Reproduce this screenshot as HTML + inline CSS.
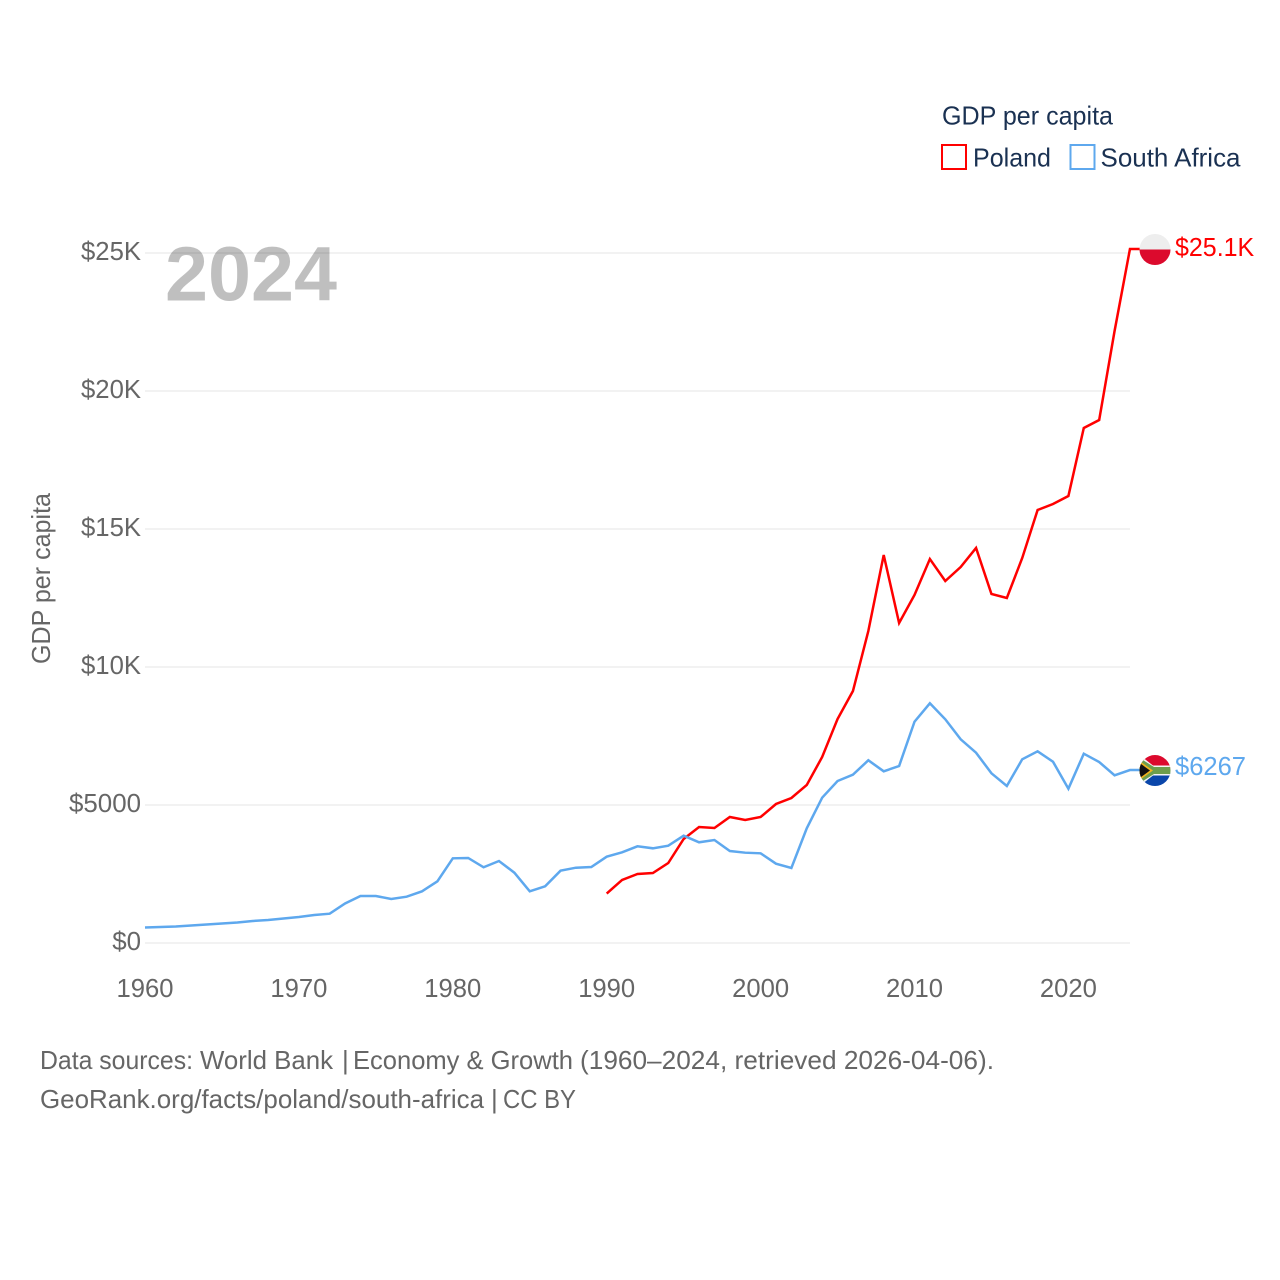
<!DOCTYPE html>
<html lang="en">
<head>
<meta charset="utf-8">
<title>GDP per capita: Poland and South Africa</title>
<style>
html,body{margin:0;padding:0;background:#fff;}
svg{display:block;font-family:"Liberation Sans",sans-serif;}
</style>
</head>
<body>
<svg id="chart" width="1280" height="1280" viewBox="0 0 1280 1280" xmlns="http://www.w3.org/2000/svg">
  <defs>
    <clipPath id="flag-clip"><circle cx="0" cy="0" r="15.5"></circle></clipPath>
  </defs>
  <rect width="1280" height="1280" fill="#fff"></rect>

  <g id="grid"></g>
  <g id="y-axis"></g>
  <g id="x-axis"></g>

  <text transform="translate(50,664) rotate(-90)" font-size="26" fill="#666" textLength="171" lengthAdjust="spacingAndGlyphs">GDP per capita</text>

  <g id="lines"></g>

  <text x="165" y="300.5" font-size="77" font-weight="700" fill="#000" fill-opacity="0.25" textLength="172" lengthAdjust="spacingAndGlyphs">2024</text>

  <g id="flag-poland">
    <g clip-path="url(#flag-clip)">
      <rect x="-16" y="-16" width="32" height="16" fill="#eeeeee"></rect>
      <rect x="-16" y="0" width="32" height="16" fill="#dc0a2d"></rect>
    </g>
  </g>
  <g id="flag-sa">
    <g clip-path="url(#flag-clip)">
      <rect x="-16" y="-16" width="32" height="16" fill="#dc0a2d"></rect>
      <rect x="-16" y="0" width="32" height="16" fill="#0a46aa"></rect>
      <path d="M-16,-16 L-2,-5 H16 V5 H-2 L-16,16 Z" fill="#f4f4f4"></path>
      <path d="M-16,-13 L-1,-3.5 H16 V3.5 H-1 L-16,13 Z" fill="#6d9e4c"></path>
      <path d="M-16,-10 L-2,0 L-16,10 Z" fill="#f0b41e"></path>
      <path d="M-16,-8 L-5,0 L-16,8 Z" fill="#111"></path>
    </g>
  </g>
  <g id="end-labels"></g>

  <g>
    <text x="942" y="124.5" font-size="26" fill="#1a3152" textLength="171" lengthAdjust="spacingAndGlyphs">GDP per capita</text>
    <g>
      <rect x="942" y="145" width="24" height="24" fill="none" stroke="#ff0000" stroke-width="2"></rect>
      <text x="973" y="166.5" font-size="26" fill="#1a3152" textLength="78" lengthAdjust="spacingAndGlyphs">Poland</text>
    </g>
    <g>
      <rect x="1070.5" y="145" width="24" height="24" fill="none" stroke="#5ea8ee" stroke-width="2"></rect>
      <text x="1100.5" y="166.5" font-size="26" fill="#1a3152" textLength="140" lengthAdjust="spacingAndGlyphs">South Africa</text>
    </g>
  </g>

  <text y="1069" font-size="26" fill="#666"><tspan x="40" textLength="153" lengthAdjust="spacingAndGlyphs">Data sources:</tspan> <tspan x="200" textLength="133" lengthAdjust="spacingAndGlyphs">World Bank</tspan> <tspan x="342">|</tspan> <tspan x="353" textLength="220" lengthAdjust="spacingAndGlyphs">Economy &amp; Growth</tspan> <tspan x="580" textLength="414" lengthAdjust="spacingAndGlyphs">(1960–2024, retrieved 2026-04-06).</tspan></text>
  <text y="1108" font-size="26" fill="#666"><tspan x="40" textLength="444" lengthAdjust="spacingAndGlyphs">GeoRank.org/facts/poland/south-africa</tspan> <tspan x="491">|</tspan> <tspan x="503" textLength="73" lengthAdjust="spacingAndGlyphs">CC BY</tspan></text>
</svg>
<script>
var yTickValues = [0, 5000, 10000, 15000, 20000, 25000];
var yTickLabels = ["$0", "$5000", "$10K", "$15K", "$20K", "$25K"];
var xTickYears = [1960, 1970, 1980, 1990, 2000, 2010, 2020];
var polandStartYear = 1990;
var southAfricaStartYear = 1960;
var polandValues = [1793, 2283, 2500, 2536, 2899, 3768, 4203, 4167, 4565, 4457, 4565, 5036, 5254, 5725, 6739, 8116, 9130, 11304, 14058, 11594, 12609, 13913, 13116, 13623, 14312, 12645, 12500, 13949, 15688, 15906, 16196, 18659, 18949, 22174, 25145];
var southAfricaValues = [562, 580, 598, 634, 670, 707, 743, 797, 833, 888, 942, 1014, 1062, 1431, 1703, 1703, 1594, 1678, 1873, 2236, 3069, 3080, 2743, 2971, 2547, 1873, 2054, 2620, 2728, 2754, 3127, 3286, 3504, 3431, 3525, 3888, 3649, 3732, 3333, 3272, 3250, 2873, 2717, 4156, 5264, 5870, 6098, 6620, 6221, 6413, 8018, 8685, 8105, 7380, 6895, 6149, 5688, 6656, 6946, 6569, 5591, 6859, 6558, 6076, 6267];

var NS = "http://www.w3.org/2000/svg";
function xScale(year) { return 145 + (year - 1960) * 15.39; }
function yScale(value) { return 943 - value * 0.0276; }
function formatValue(v) {
  return v >= 10000 ? "$" + (v / 1000).toFixed(1) + "K" : "$" + Math.round(v);
}
function make(tag, attrs, parent) {
  var el = document.createElementNS(NS, tag);
  for (var k in attrs) { el.setAttribute(k, attrs[k]); }
  parent.appendChild(el);
  return el;
}

var grid = document.getElementById("grid");
var yAxis = document.getElementById("y-axis");
var xAxis = document.getElementById("x-axis");
var linesGroup = document.getElementById("lines");
var endLabels = document.getElementById("end-labels");

yTickValues.forEach(function (v, i) {
  var y = yScale(v);
  var line = make("line", {x1: 145, x2: 1130, y1: y, y2: y, stroke: "#eeeeee", "stroke-width": 1.6}, grid);
  
  
  var label = yTickLabels[i];
  var width = label.length * 14.4 + (label.indexOf("K") >= 0 ? 2.4 : 0);
  var t = make("text", {x: 141, y: y + 7, "text-anchor": "end", "font-size": 26, fill: "#666", textLength: width, lengthAdjust: "spacingAndGlyphs"}, yAxis);
  t.textContent = label;
  
  
});

xTickYears.forEach(function (yr) {
  var t = make("text", {x: xScale(yr), y: 997, "text-anchor": "middle", "font-size": 26, fill: "#666", textLength: 57, lengthAdjust: "spacingAndGlyphs"}, xAxis);
  t.textContent = String(yr);
  
  
});

function linePath(values, startYear) {
  var d = "";
  values.forEach(function (v, i) {
    d += (i ? "L" : "M") + xScale(startYear + i).toFixed(2) + "," + yScale(v).toFixed(2);
  });
  var last = values[values.length - 1];
  d += "L" + (xScale(startYear + values.length - 1) + 10).toFixed(2) + "," + yScale(last).toFixed(2);
  return d;
}

var polandLine = make("path", {d: linePath(polandValues, polandStartYear), fill: "none", stroke: "#ff0000", "stroke-width": 2.5, "stroke-linejoin": "miter"}, linesGroup);



var saLine = make("path", {d: linePath(southAfricaValues, southAfricaStartYear), fill: "none", stroke: "#5ea8ee", "stroke-width": 2.5, "stroke-linejoin": "miter"}, linesGroup);



var plLast = polandValues[polandValues.length - 1];
var saLast = southAfricaValues[southAfricaValues.length - 1];
document.getElementById("flag-poland").setAttribute("transform", "translate(1155," + (yScale(plLast) + 0.5) + ")");
document.getElementById("flag-sa").setAttribute("transform", "translate(1155," + (yScale(saLast) + 0.5) + ")");

var plText = formatValue(plLast);
var plLabel = make("text", {x: 1175, y: yScale(plLast) + 7, "font-size": 26, fill: "#ff0000", textLength: plText.length * 13.2, lengthAdjust: "spacingAndGlyphs"}, endLabels);
plLabel.textContent = plText;



var saText = formatValue(saLast);
var saLabel = make("text", {x: 1175, y: yScale(saLast) + 5, "font-size": 26, fill: "#5ea8ee", textLength: saText.length * 14.2, lengthAdjust: "spacingAndGlyphs"}, endLabels);
saLabel.textContent = saText;


</script>
</body>
</html>
